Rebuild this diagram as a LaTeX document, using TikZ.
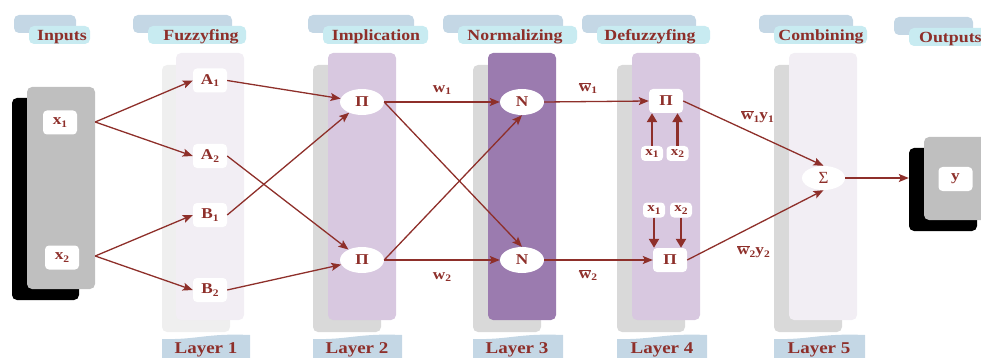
\documentclass[tikz,border=0pt]{standalone}
\usepackage{fontspec}
\setmainfont{Liberation Serif}
\newfontfamily\lbl[FakeStretch=1.15]{Liberation Serif}
\usetikzlibrary{arrows.meta,shapes.geometric}
\definecolor{dred}{HTML}{8E2F2A}
\definecolor{hback}{HTML}{C4D7E5}
\definecolor{hfront}{HTML}{C8EBF1}
\definecolor{cgray}{HTML}{D9D9D9}
\definecolor{clight}{HTML}{EFEFEF}
\definecolor{cpale}{HTML}{F2EEF4}
\definecolor{clilac}{HTML}{D8C8E0}
\definecolor{cpurple}{HTML}{9B7BAF}
\definecolor{igray}{HTML}{BFBFBF}
\newcommand{\sbs}[1]{\raisebox{-0.4ex}{\fontsize{10}{10}\selectfont #1}}
\newcommand{\wbar}{$\overline{\hbox{w}}$}
\tikzset{
  lab/.style={text=dred, font=\lbl\bfseries\fontsize{15}{15}\selectfont, inner sep=0pt},
  htext/.style={text=dred, font=\lbl\bfseries\fontsize{15.5}{15.5}\selectfont, inner sep=0pt, anchor=base},
  ltext/.style={text=dred, font=\lbl\bfseries\fontsize{16.5}{16.5}\selectfont, inner sep=0pt, anchor=base},
  wbox/.style={lab, fill=white, rounded corners=4pt, minimum width=34pt, minimum height=24pt},
  sbox/.style={lab, fill=white, rounded corners=4pt, minimum width=22pt, minimum height=15pt, font=\lbl\bfseries\fontsize{13}{13}\selectfont},
  well/.style={lab, ellipse, fill=white, minimum width=44pt, minimum height=26pt},
  conn/.style={draw=dred, line width=1.3pt, -{Stealth[length=10pt,width=8pt,inset=2pt]}},
  tconn/.style={draw=dred, line width=2.6pt, -{Triangle[length=9pt,width=10pt]}},
  band/.style={fill=hback},
}
\newcommand{\header}[6]{%
  \fill[hback, rounded corners=5pt] (#1,#3) rectangle (#2,#3+18);
  \fill[hfront, rounded corners=5pt] (#1+15,#3+11) rectangle (#2+14,#3+29);
  \node[htext] at (#4,#3+26) {#5};}
\newcommand{\layerband}[4]{%
  \fill[band] (#1,360) -- (#1,339) .. controls (#1+0.4*#2-0.4*#1,340) and (#1+0.5*#2-0.5*#1,333) .. (#2,335) -- (#2,360) -- cycle;
  \node[ltext] at (#3,353) {#4};}
\newcommand{\column}[5]{%
  \fill[#3, rounded corners=5pt] (#1,65) rectangle (#1+68,332);
  \fill[#4, rounded corners=5pt] (#2,53) rectangle (#2+68,320);}
\begin{document}
\begin{tikzpicture}[x=1pt,y=-1pt]
\useasboundingbox (0,0) rectangle (981,358);
\clip (0,0) rectangle (981,358);
% labels drawn below the columns
\node[lab, anchor=west] (l1) at (741,117) {\wbar\sbs{1}y\sbs{1}};
\node[lab, anchor=west] (l2) at (737,252) {\wbar\sbs{2}y\sbs{2}};
% headers
\header{14}{76}{15}{62}{Inputs}{}
\header{133}{232}{15}{201}{Fuzzyfing}{}
\header{308}{414}{15}{376}{Implication}{}
\header{443}{563}{15}{515}{Normalizing}{}
\header{582}{696}{15}{650}{Defuzzyfing}{}
\header{759}{853}{15}{821}{Combining}{}
\fill[hback, rounded corners=5pt] (894,17) rectangle (973,35);
\fill[hfront, rounded corners=5pt] (909,28) rectangle (995,46);
\node[htext, anchor=base west] at (919,43) {Outputs};
% columns
\fill[black, rounded corners=5pt] (12,98) rectangle (79,300);
\node[fill=igray, rounded corners=5pt, minimum width=68pt, minimum height=202pt, inner sep=0pt] (xin) at (61,188) {};
\column{162}{176}{clight}{cpale}{}
\column{313}{328}{cgray}{clilac}{}
\column{473}{488}{cgray}{cpurple}{}
\column{617}{632}{cgray}{clilac}{}
\column{774}{789}{cgray}{cpale}{}
\node[fill=black, rounded corners=5pt, minimum width=68pt, minimum height=83pt, inner sep=0pt] (yback) at (943,189.5) {};
\fill[igray, rounded corners=5pt] (924,137) rectangle (1000,220);
% layer bands
\layerband{162}{250}{206}{Layer 1}
\layerband{313}{402}{357}{Layer 2}
\layerband{473}{563}{517}{Layer 3}
\layerband{617}{707}{662}{Layer 4}
\layerband{774}{865}{819}{Layer 5}
% nodes
\node[wbox] (x1) at (60,122.5) {x\sbs{1}};
\node[wbox] (x2) at (62,257.5) {x\sbs{2}};
\node[wbox] (A1) at (210,80.5) {A\sbs{1}};
\node[wbox] (A2) at (210,156) {A\sbs{2}};
\node[wbox] (B1) at (210,215) {B\sbs{1}};
\node[wbox] (B2) at (210,290) {B\sbs{2}};
\node[well] (P1) at (362,102) {\symbol{"03A0}};
\node[well] (P2) at (362,260) {\symbol{"03A0}};
\node[well] (N1) at (522,102) {N};
\node[well] (N2) at (522,260) {N};
\node[wbox] (D1) at (666,101) {\symbol{"03A0}};
\node[wbox] (D2) at (670,260) {\symbol{"03A0}};
\node[sbox] (u1) at (652,153.5) {x\sbs{1}};
\node[sbox] (u2) at (677.5,153.5) {x\sbs{2}};
\node[sbox] (v1) at (654,210) {x\sbs{1}};
\node[sbox] (v2) at (681,210) {x\sbs{2}};
\node[well, font=\fontsize{17}{17}\selectfont, minimum width=43pt, minimum height=24pt] (S) at (823.5,178) {\symbol{"03A3}};
\node[wbox] (Y) at (955.5,179) {y};
% edge labels
\node[lab] (w1) at (442,90) {w\sbs{1}};
\node[lab] (w2) at (442,277) {w\sbs{2}};
\node[lab] (wb1) at (588,88) {\wbar\sbs{1}};
\node[lab] (wb2) at (588,275) {\wbar\sbs{2}};
% connectors
\draw[conn] (xin.east |- 0,122) -- (A1.west);
\draw[conn] (xin.east |- 0,122) -- (A2.west);
\draw[conn] (xin.east |- 0,256) -- (B1.west);
\draw[conn] (xin.east |- 0,256) -- (B2.west);
\draw[conn] (A1.east) -- (P1);
\draw[conn] (A2.east) -- (P2);
\draw[conn] (B1.east) -- (P1);
\draw[conn] (B2.east) -- (P2);
\draw[conn] (P1.east) -- (N1.west);
\draw[conn] (P1.east) -- (N2.north);
\draw[conn] (P2.east) -- (N1.south);
\draw[conn] (P2.east) -- (N2.west);
\draw[conn] (N1.east) -- (D1.west);
\draw[conn] (N2.east) -- (D2.west);
\draw[tconn] (u1.north) -- (u1.north |- D1.south);
\draw[tconn] (u2.north) -- (u2.north |- D1.south);
\draw[tconn] (v1.south) -- (v1.south |- D2.north);
\draw[tconn] (v2.south) -- (v2.south |- D2.north);
\draw[conn] (D1.east) -- (S.north);
\draw[conn] (D2.east) -- (S.south);
\draw[conn] (S.east) -- (S.east -| yback.west);
\end{tikzpicture}
\end{document}
